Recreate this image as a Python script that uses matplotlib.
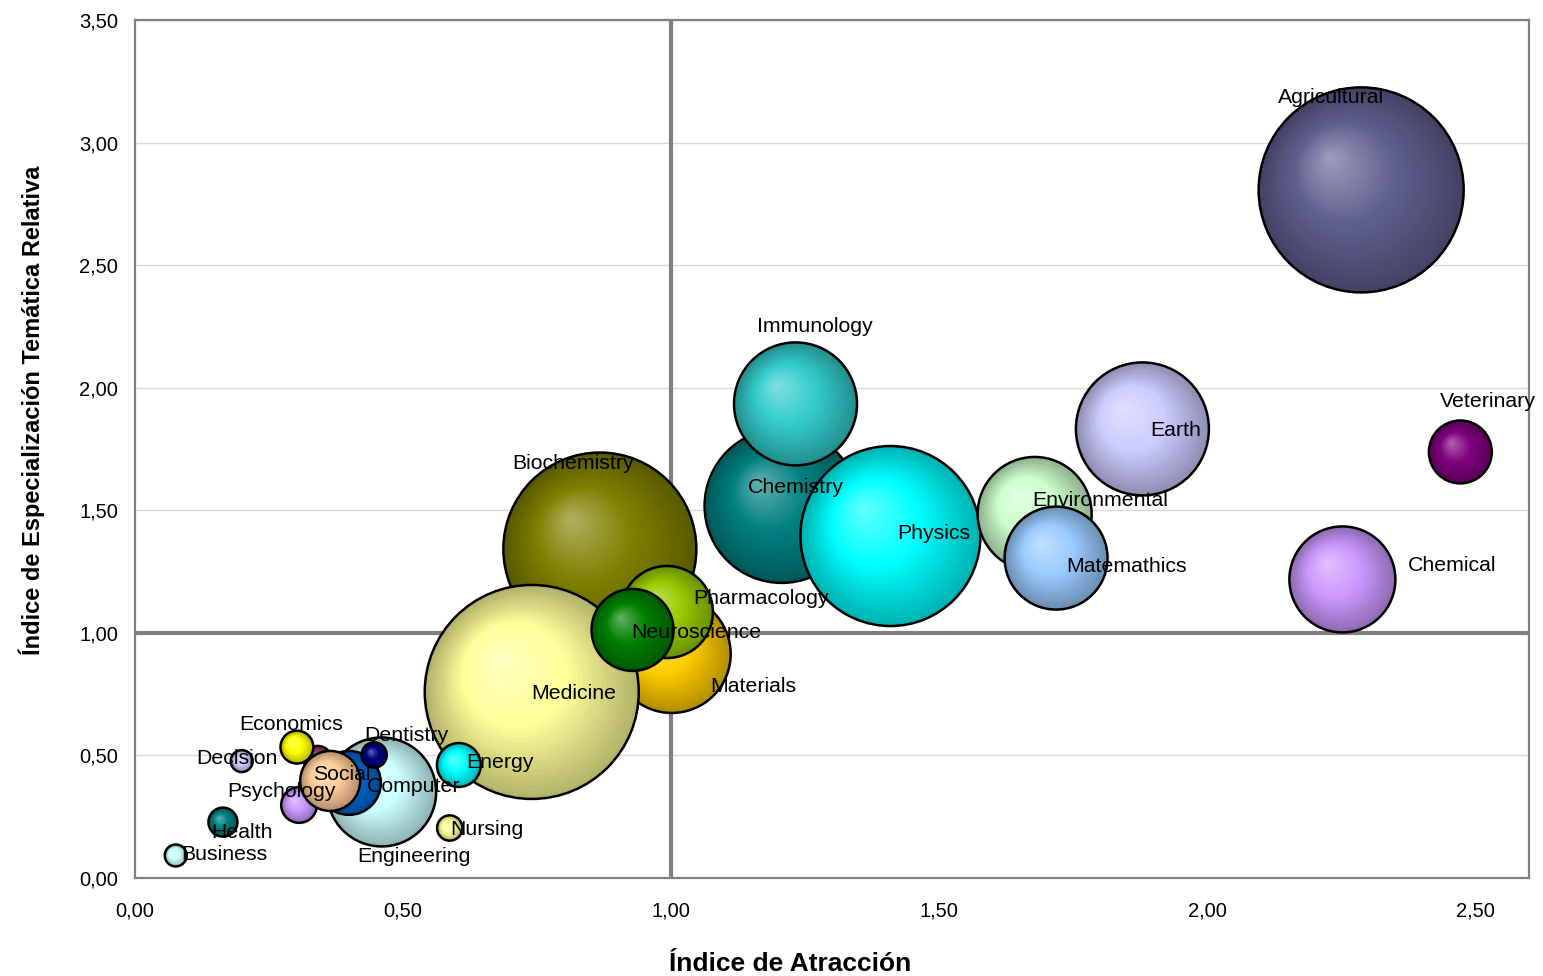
import numpy as np
import matplotlib
matplotlib.use('Agg')
import matplotlib.pyplot as plt
import matplotlib.colors as mcolors
from matplotlib.transforms import offset_copy

plt.rcParams['font.family'] = ['Liberation Sans', 'DejaVu Sans']

# series en el orden en que se dibujan (las ultimas quedan encima)
areas = ['Biochemistry', 'Materials', 'Medicine', 'Pharmacology', 'Neuroscience',
         'Chemistry', 'Immunology', 'Physics', 'Environmental', 'Matemathics',
         'Earth', 'Chemical', 'Agricultural', 'Veterinary', 'Engineering',
         'Computer', 'Dentistry', 'Arts', 'Economics', 'Psychology', 'Social',
         'Decision', 'Health', 'Business', 'Energy', 'Nursing']
etiquetas = ['Biochemistry', 'Materials', 'Medicine', 'Pharmacology', 'Neuroscience',
             'Chemistry', 'Immunology', 'Physics', 'Environmental', 'Matemathics',
             'Earth', 'Chemical', 'Agricultural', 'Veterinary', 'Engineering',
             'Computer', 'Dentistry', '', 'Economics', 'Psychology', 'Social',
             'Decision', 'Health', 'Business', 'Energy', 'Nursing']
# Indice de Atraccion
ia = [0.867, 1.001, 0.740, 0.992, 0.928,
      1.206, 1.232, 1.409, 1.678, 1.718,
      1.879, 2.252, 2.287, 2.472, 0.460,
      0.399, 0.446, 0.341, 0.302, 0.306, 0.364,
      0.199, 0.164, 0.076, 0.604, 0.587]
# Indice de Especializacion Tematica Relativa
ietr = [1.342, 0.914, 0.759, 1.085, 1.012,
        1.518, 1.934, 1.395, 1.485, 1.305,
        1.832, 1.218, 2.807, 1.738, 0.351,
        0.388, 0.502, 0.481, 0.534, 0.298, 0.396,
        0.477, 0.228, 0.092, 0.461, 0.204]
# tamano de la burbuja (area relativa)
tamano = [93.1, 34.8, 114.5, 21.2, 16.8,
          59.3, 37.8, 81.0, 32.5, 26.5,
          44.2, 28.1, 105.1, 9.9, 29.7,
          10.2, 1.6, 2.0, 2.7, 3.2, 9.0,
          1.2, 2.1, 1.2, 4.8, 1.6]
colores = ['#808000', '#ffcc00', '#ffff99', '#99cc00', '#008000',
           '#008080', '#33cccc', '#00ffff', '#ccffcc', '#99ccff',
           '#ccccff', '#cc99ff', '#60608f', '#800080', '#ccffff',
           '#0066cc', '#000080', '#993366', '#ffff00', '#cc99ff', '#ffcc99',
           '#ccccff', '#008080', '#ccffff', '#00ffff', '#ffff99']
# posicion de la etiqueta respecto al centro (px de pantalla)
desp = [(-27, -86), (82, 33), (42, 2), (94, -14), (64, 3),
        (14, -18), (19, -77), (43, -3), (66, -13), (70, 8),
        (33, 2), (110, -14), (-30, -92), (28, -50), (32, 65),
        (65, 4), (32, -19), (0, 0), (-6, -23), (-18, -13), (12, -6),
        (-5, -3), (19, 10), (49, -1), (41, -2), (37, 1)]

escala = 207.36  # tamano -> puntos^2


def tono(c, k):
    c = np.array(mcolors.to_rgb(c))
    if k < 0:
        return c * (1 + k)
    return c + (1 - c) * k


fig = plt.figure(figsize=(15.43, 9.76), dpi=100)
ax = fig.add_axes([0.0875, 0.1004, 0.9034, 0.8791])

ax.set_xlim(0, 2.6)
ax.set_ylim(0, 3.5)
ax.set_xticks(np.arange(0, 2.51, 0.5))
ax.set_yticks(np.arange(0, 3.51, 0.5))
ax.set_xticklabels([f'{v:.2f}'.replace('.', ',') for v in np.arange(0, 2.51, 0.5)])
ax.set_yticklabels([f'{v:.2f}'.replace('.', ',') for v in np.arange(0, 3.51, 0.5)])
ax.tick_params(axis='x', length=0, pad=17, labelsize=14.5)
ax.tick_params(axis='y', length=0, pad=12, labelsize=14.5)
ax.yaxis.grid(True, color='#d9d9d9', lw=1)
ax.set_axisbelow(True)
for sp in ax.spines.values():
    sp.set_color('#808080')
    sp.set_linewidth(1.6)

ax.axvline(1, color='#808080', lw=3, zorder=1.5)
ax.axhline(1, color='#808080', lw=3, zorder=1.5)

n_capas = 30
for x, y, t, col in zip(ia, ietr, tamano, colores):
    s = t * escala
    r_pt = np.sqrt(s) / 2
    for i in range(n_capas):
        f = i / n_capas
        k = -0.3 * (1 - 2 * f) if f < 0.5 else 0.4 * (2 * f - 1)
        tr = offset_copy(ax.transData, fig=fig, x=-0.32 * r_pt * f,
                         y=0.32 * r_pt * f, units='points')
        ax.scatter([x], [y], s=s * (1 - f) ** 2, color=tono(col, k),
                   transform=tr, linewidths=0, zorder=2)
    ax.scatter([x], [y], s=s, facecolors='none', edgecolors='black',
               linewidths=1.8, zorder=2)

for x, y, lab, (dx, dy) in zip(ia, ietr, etiquetas, desp):
    if lab:
        ax.annotate(lab, (x, y), xytext=(dx * 0.72, -dy * 0.72),
                    textcoords='offset points', ha='center', va='center',
                    fontsize=15.3, zorder=5)

ax.set_xlabel('Índice de Atracción', fontsize=19, fontweight='bold')
ax.xaxis.set_label_coords(0.47, -0.1)
ax.xaxis.label.set_va('center')
ax.set_ylabel('Índice de Especialización Temática Relativa', fontsize=17,
              fontweight='bold')
ax.yaxis.set_label_coords(-0.074, 0.545)
ax.yaxis.label.set_va('center')

fig.savefig('out.png', dpi=100)
